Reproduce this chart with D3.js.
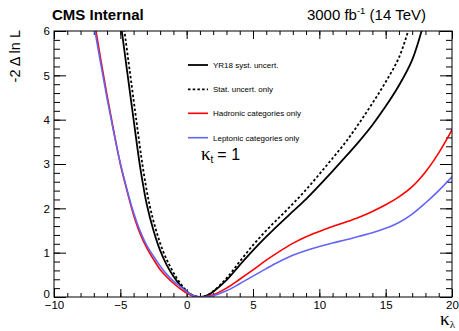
<!DOCTYPE html>
<html><head><meta charset="utf-8">
<script src="https://cdn.jsdelivr.net/npm/d3@7"></script>
<style>
html,body{margin:0;padding:0;background:#fff;}
svg{display:block;font-family:"Liberation Sans",Arial,Helvetica,sans-serif;}
</style></head>
<body><svg id="c" width="459" height="331"></svg>
<script>
// ---------- data ----------
const systK = [-5.0,-4.5,-4.0,-3.5,-3.0,-2.5,-2.0,-1.5,-1.0,-0.5,0,0.5,1,1.5,2,3,4,5,6,7,8,9,10,11,12,13,14,15,16,17,17.8];
const systY = [6.25,5.12,4.0,2.92,2.08,1.5,1.05,0.72,0.47,0.27,0.12,0.03,0,0.03,0.12,0.38,0.72,1.05,1.36,1.65,1.93,2.21,2.52,2.84,3.17,3.51,3.88,4.3,4.77,5.35,6.1];
const statK = [-4.8,-4.3,-3.8,-3.3,-2.8,-2.3,-1.8,-1.3,-0.8,-0.3,0.2,0.6,1,1.5,2,3,4,5,6,7,8,9,10,11,12,13,14,15,16,16.8];
const statY = [6.25,5.12,4.0,2.92,2.08,1.5,1.05,0.72,0.45,0.24,0.08,0.02,0,0.03,0.13,0.42,0.8,1.17,1.5,1.8,2.1,2.42,2.77,3.13,3.5,3.92,4.37,4.85,5.4,6.1];
const catK = [-7,-6.5,-6,-5.5,-5,-4.5,-4,-3.5,-3,-2.5,-2,-1.5,-1,-0.5,0,0.5,1,1.5,2,3,4,5,6,7,8,9,10,11,12,13,14,15,16,17,18,19,20];
const hadY = [6.3,5.4,4.55,3.75,3.0,2.4,1.85,1.42,1.1,0.85,0.62,0.45,0.31,0.19,0.09,0.02,0,0.01,0.05,0.2,0.4,0.61,0.83,1.03,1.21,1.36,1.48,1.59,1.69,1.8,1.93,2.08,2.26,2.49,2.82,3.25,3.77];
const lepY = [6.15,5.3,4.48,3.72,3.02,2.43,1.9,1.48,1.16,0.92,0.7,0.51,0.36,0.24,0.12,0.03,0,0.01,0.03,0.14,0.3,0.47,0.64,0.8,0.94,1.05,1.14,1.22,1.29,1.37,1.45,1.55,1.68,1.87,2.12,2.4,2.71];
const xMajor = [-10,-5,0,5,10,15,20];
const yMajor = [0,1,2,3,4,5,6];
const legendLabels = ["YR18 syst. uncert.","Stat. uncert. only","Hadronic categories only","Leptonic categories only"];

// ---------- layout ----------
const L=54, R=452, T=31, B=297;
const svg = d3.select("#c");
const x = d3.scaleLinear().domain([-10,20]).range([L,R]);
const y = d3.scaleLinear().domain([0,6]).range([B,T]);

const xMinor = d3.range(-10,20.001,1);
const yMinor = d3.range(0,6.001,0.2);

function axisG(axis, tx, ty){
  const g = svg.append("g").attr("transform",`translate(${tx},${ty})`).call(axis);
  g.select(".domain").remove();
  g.selectAll("line").attr("stroke","#000").attr("stroke-width",1);
  return g;
}
// bottom
axisG(d3.axisBottom(x).tickValues(xMinor).tickSize(-4).tickFormat(""),0,B);
const gb = axisG(d3.axisBottom(x).tickValues(xMajor).tickSize(-8).tickPadding(3.5).tickFormat(d3.format("d")),0,B);
gb.selectAll("text").attr("font-size",11.5).attr("font-family","Liberation Sans, Arial").attr("fill","#000");
// top
axisG(d3.axisTop(x).tickValues(xMinor).tickSize(-4).tickFormat(""),0,T);
axisG(d3.axisTop(x).tickValues(xMajor).tickSize(-8).tickFormat(""),0,T);
// left
axisG(d3.axisLeft(y).tickValues(yMinor).tickSize(-6).tickFormat(""),L,0);
const gl = axisG(d3.axisLeft(y).tickValues(yMajor).tickSize(-12).tickPadding(4).tickFormat(d3.format("d")),L,0);
gl.selectAll("text").attr("font-size",11.5).attr("font-family","Liberation Sans, Arial").attr("fill","#000");
gl.selectAll("text").filter(d=>d===0).attr("dy","0.05em");
// right
axisG(d3.axisRight(y).tickValues(yMinor).tickSize(-6).tickFormat(""),R,0);
axisG(d3.axisRight(y).tickValues(yMajor).tickSize(-12).tickFormat(""),R,0);

// clip
svg.append("clipPath").attr("id","pc").append("rect").attr("x",L).attr("y",T).attr("width",R-L).attr("height",B-T);

const line = d3.line().x(d=>x(d[0])).y(d=>y(d[1])).curve(d3.curveCatmullRom.alpha(0.5));
const series = [
  {k:systK, v:systY, color:"#000", dash:null, w:1.8},
  {k:statK, v:statY, color:"#000", dash:"2.5,2.2", w:1.8},
  {k:catK, v:hadY, color:"#ff0000", dash:null, w:1.6},
  {k:catK, v:lepY, color:"#6464f5", dash:null, w:1.6}
];
const pg = svg.append("g").attr("clip-path","url(#pc)");
series.forEach(s=>{
  pg.append("path").datum(d3.zip(s.k,s.v)).attr("d",line)
    .attr("fill","none").attr("stroke",s.color).attr("stroke-width",s.w)
    .attr("stroke-dasharray",s.dash);
});

// frame
svg.append("rect").attr("x",L).attr("y",T).attr("width",R-L).attr("height",B-T)
  .attr("fill","none").attr("stroke","#000").attr("stroke-width",1);

// legend
const legRows = [65,89.3,113.3,137.7];
series.forEach((s,i)=>{
  svg.append("line").attr("x1",188).attr("x2",208).attr("y1",legRows[i]).attr("y2",legRows[i])
    .attr("stroke",s.color).attr("stroke-width",s.w).attr("stroke-dasharray",s.dash);
  svg.append("text").attr("x",213).attr("y",legRows[i]).attr("dy","0.35em")
    .attr("font-size",8).attr("fill","#000").text(legendLabels[i]);
});

// kappa_t = 1
const kt = svg.append("text").attr("x",201).attr("y",160).attr("fill","#000");
kt.append("tspan").attr("font-family","Liberation Serif, Times New Roman, serif").attr("font-size",19).text("κ");
kt.append("tspan").attr("font-size",10).attr("dy",3).text("t");
kt.append("tspan").attr("font-size",16).attr("dy",-3).attr("dx",4).text("= 1");

// headers
svg.append("text").attr("x",52).attr("y",20).attr("font-size",15).attr("font-weight","bold").attr("fill","#000").text("CMS Internal");
const lum = svg.append("text").attr("x",426).attr("y",20).attr("text-anchor","end").attr("font-size",15).attr("fill","#000");
lum.append("tspan").text("3000 fb");
lum.append("tspan").attr("font-size",9.5).attr("dy",-6).text("-1");
lum.append("tspan").attr("dy",6).text(" (14 TeV)");

// axis titles
svg.append("text").attr("transform","translate(20,30) rotate(-90)").attr("text-anchor","end")
  .attr("font-size",14.5).attr("fill","#000").text("-2 Δ ln L");
const xt = svg.append("text").attr("x",455).attr("y",325).attr("text-anchor","end").attr("fill","#000");
xt.append("tspan").attr("font-family","Liberation Serif, Times New Roman, serif").attr("font-size",19).text("κ");
xt.append("tspan").attr("font-family","Liberation Serif, Times New Roman, serif").attr("font-size",11).attr("dy",3).text("λ");
</script></body></html>
